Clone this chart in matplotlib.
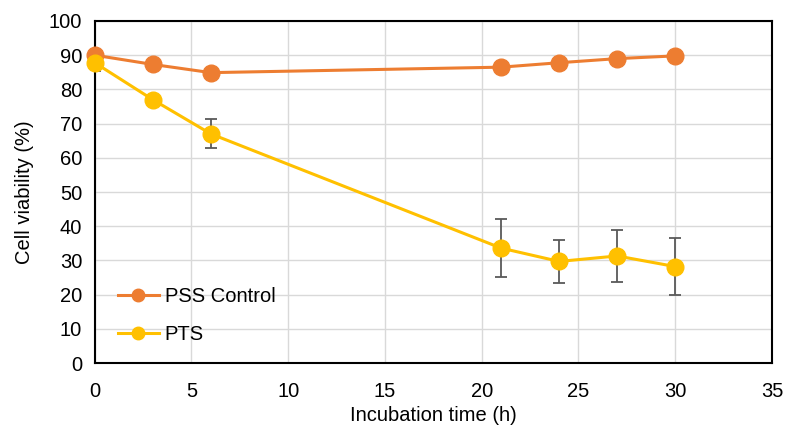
import matplotlib.pyplot as plt

plt.rcParams['font.family'] = ['Liberation Sans', 'DejaVu Sans']

# Data
hours = [0, 3, 6, 21, 24, 27, 30]
pss_control = [90.0, 87.3, 84.9, 86.5, 87.8, 89.0, 89.8]
pts = [87.8, 77.0, 67.0, 33.6, 29.7, 31.3, 28.2]
pts_err = [2.5, 0, 4.2, 8.5, 6.3, 7.7, 8.3]

orange = '#ED7D31'
yellow = '#FFC000'

fig = plt.figure(figsize=(7.86, 4.32), dpi=100)
ax = fig.add_axes([0.1205, 0.1597, 0.8617, 0.7917])

ax.errorbar(hours, pts, yerr=pts_err, fmt='none', ecolor='#595959',
            elinewidth=1.3, capsize=4, capthick=1.3, zorder=2)
ax.plot(hours, pss_control, color=orange, linewidth=2.2, marker='o',
        markersize=12, label='PSS Control', zorder=3, clip_on=False)
ax.plot(hours, pts, color=yellow, linewidth=2.2, marker='o',
        markersize=12, label='PTS', zorder=4, clip_on=False)

ax.set_xlim(0, 35)
ax.set_ylim(0, 100)
ax.set_xticks(range(0, 36, 5))
ax.set_yticks(range(0, 101, 10))
ax.grid(True, color='#D9D9D9', linewidth=1)
ax.set_axisbelow(True)
for s in ax.spines.values():
    s.set_color('black')
    s.set_linewidth(1.5)
ax.tick_params(length=0, labelsize=14.5, pad=9)
ax.tick_params(axis='x', pad=14)

ax.set_xlabel('Incubation time (h)', fontsize=14.5, labelpad=3)
ax.set_ylabel('Cell viability (%)', fontsize=14.5, labelpad=11)

leg = ax.legend(loc='lower left', bbox_to_anchor=(0.008, 0.003), frameon=False,
                fontsize=14.5, handlelength=2.0, handletextpad=0.3,
                labelspacing=0.95, markerscale=0.75)

fig.savefig('out.png', dpi=100)
